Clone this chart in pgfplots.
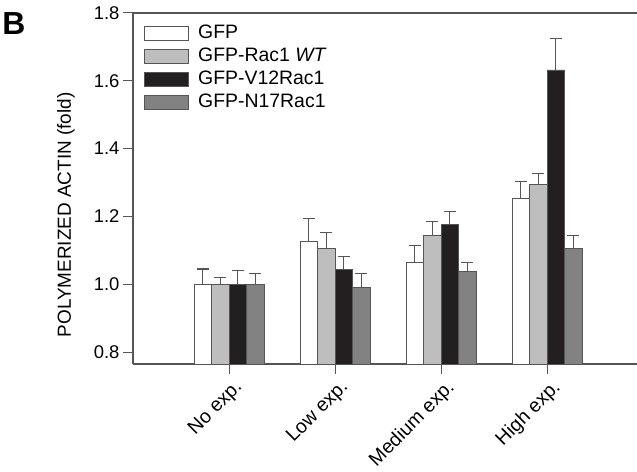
\documentclass[border=0pt]{standalone}
\usepackage{fontspec}
\setmainfont{Liberation Sans}
\usepackage{pgfplots}
\pgfplotsset{compat=1.18}
\definecolor{axgray}{HTML}{555555}
\definecolor{lgray}{HTML}{BEBEBE}
\definecolor{dgray}{HTML}{828282}
\definecolor{blk}{HTML}{231F20}
\begin{document}
\begin{tikzpicture}
\useasboundingbox (-133bp,-108bp) rectangle (504bp,364bp);
\begin{axis}[
  scale only axis,
  width=504bp, height=351bp,
  xmin=-0.906, xmax=3.849,
  ymin=0.765, ymax=1.8,
  axis x line=box, axis y line=left,
  axis line style={draw=axgray, line width=1.1bp, -},
  xtick={0,1,2,3},
  xticklabels={No exp.,Low exp.,Medium exp.,High exp.},
  xtick pos=bottom, ytick pos=left,
  tick align=outside,
  major tick length=10bp,
  tick style={draw=axgray, line width=1bp},
  xticklabel style={rotate=45, anchor=north east, font=\fontsize{19.5}{22}\selectfont, inner sep=2bp, yshift=-4bp, xshift=2bp},
  yticklabel style={font=\fontsize{18.5}{21}\selectfont},
  ytick={0.8,1.0,1.2,1.4,1.6,1.8},
  /pgf/number format/.cd, fixed, fixed zerofill, precision=1, assume math mode=true,
  /pgfplots/.cd,
  ylabel={POLYMERIZED ACTIN (fold)},
  ylabel style={font=\fontsize{19}{22}\selectfont, at={(axis description cs:-0.133,0.425)}, anchor=center},
  ybar=0pt, bar width=17.5bp,
  every axis plot/.append style={draw=axgray, line width=0.9bp},
  error bars/y dir=plus, error bars/y explicit,
  error bars/error bar style={draw=axgray, line width=1.1bp},
  error bars/error mark options={draw=axgray, line width=1.1bp, mark size=6bp, rotate=90},
  legend style={draw=none, fill=none, at={(axis description cs:0.022,0.975)}, anchor=north west,
    font=\fontsize{19.5}{22}\selectfont, row sep=0bp, inner sep=0pt,
    nodes={text height=14.5bp, text depth=4.5bp, inner ysep=2bp}},
  legend cell align=left,
  legend image code/.code={\draw[#1, draw=axgray, line width=0.9bp] (0bp,-7bp) rectangle (44bp,7bp); \path (51bp,0bp);},
]
\addplot[fill=white] coordinates {
 (0,1.000) +- (0,0.045)
 (1,1.126) +- (0,0.069)
 (2,1.064) +- (0,0.050)
 (3,1.254) +- (0,0.048)
};
\addplot[fill=lgray] coordinates {
 (0,1.000) +- (0,0.020)
 (1,1.107) +- (0,0.045)
 (2,1.143) +- (0,0.042)
 (3,1.295) +- (0,0.031)
};
\addplot[fill=blk] coordinates {
 (0,1.000) +- (0,0.042)
 (1,1.045) +- (0,0.037)
 (2,1.176) +- (0,0.038)
 (3,1.632) +- (0,0.092)
};
\addplot[fill=dgray] coordinates {
 (0,1.000) +- (0,0.032)
 (1,0.991) +- (0,0.041)
 (2,1.038) +- (0,0.025)
 (3,1.107) +- (0,0.038)
};
\legend{GFP, GFP-Rac1 \textit{WT}, GFP-V12Rac1, GFP-N17Rac1}
\end{axis}
\node[font=\fontsize{32}{34}\selectfont\bfseries, anchor=center] at (-119bp,340bp) {B};
\end{tikzpicture}
\end{document}
